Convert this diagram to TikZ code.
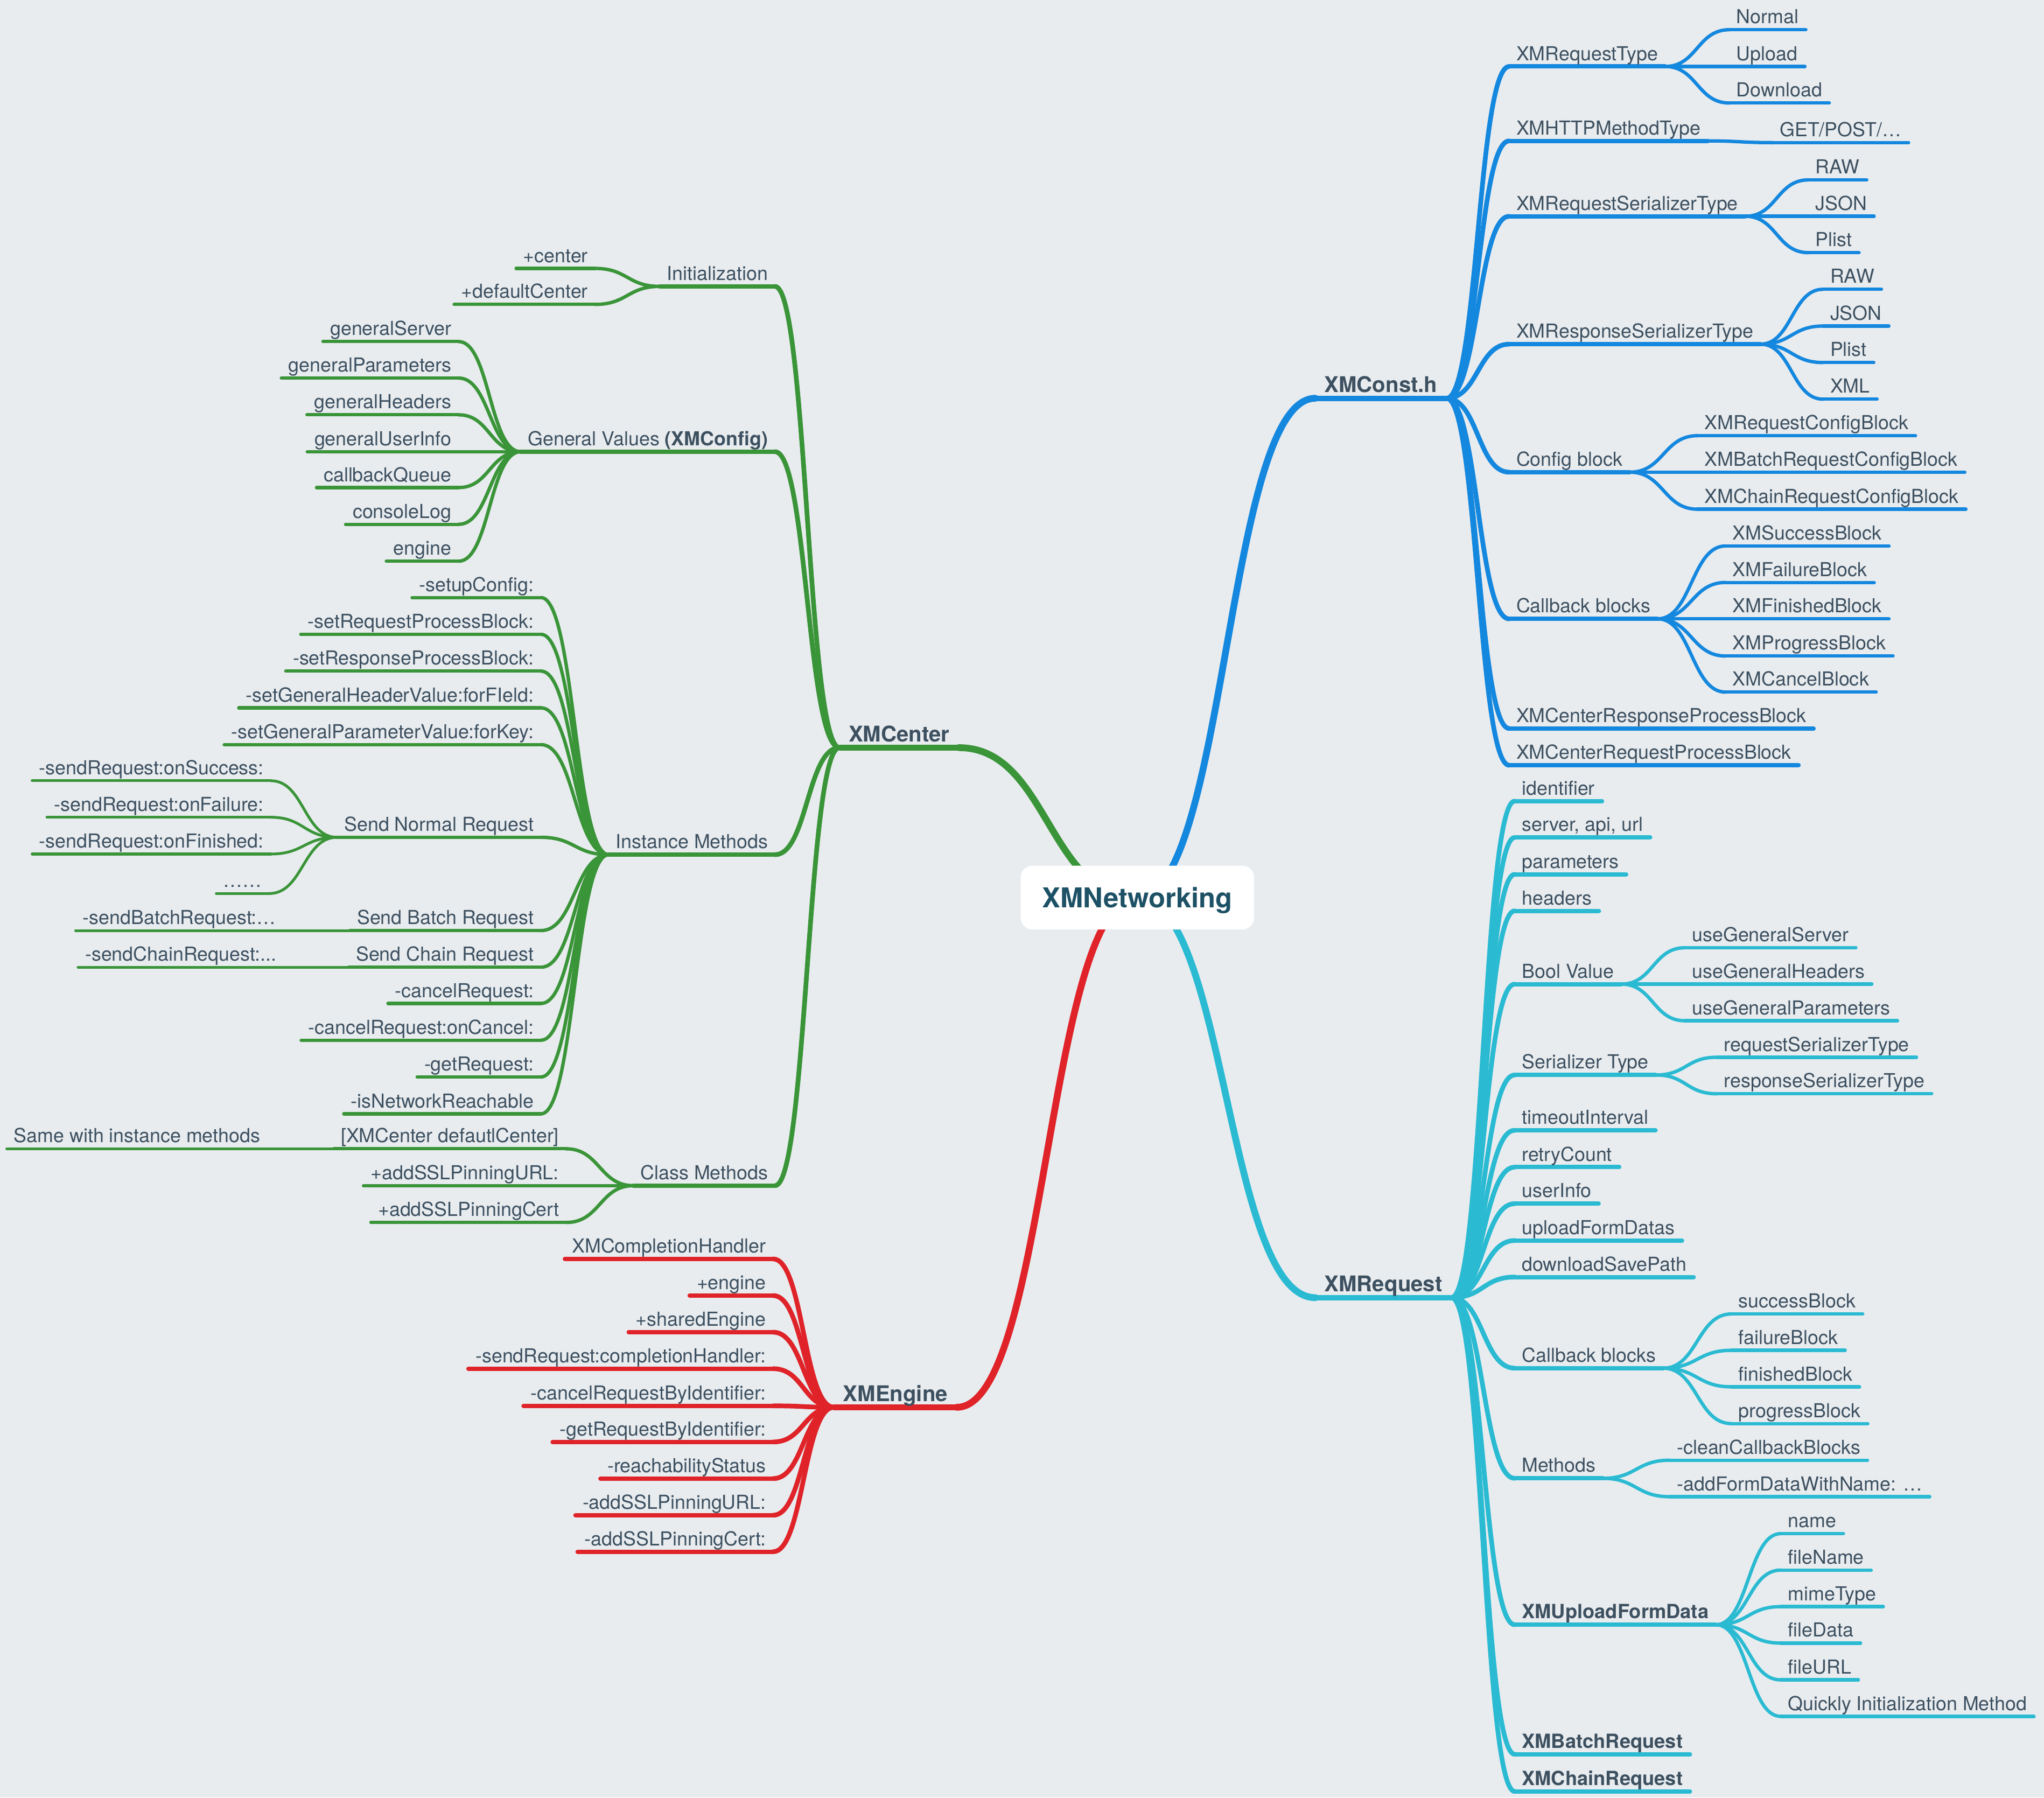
\documentclass[tikz,border=0pt]{standalone}
\usepackage{fontspec}
\setmainfont{TeX Gyre Heros}
\usetikzlibrary{calc}
\definecolor{bgc}{HTML}{E8ECEF}
\definecolor{txtc}{HTML}{3D5060}
\definecolor{ctrc}{HTML}{1D5166}
\definecolor{cblue}{HTML}{1487DE}
\definecolor{ccyan}{HTML}{2ABAD2}
\definecolor{cgreen}{HTML}{3A9438}
\definecolor{cred}{HTML}{DF2329}
\pgfdeclarelayer{bgl}
\pgfdeclarelayer{lines}
\pgfsetlayers{bgl,lines,main}
\tikzset{
 txt/.style={font=\fontsize{14.8}{17}\selectfont, text=txtc, inner xsep=5.5pt, inner ysep=4.7pt, text height=11pt, text depth=0pt, outer sep=0pt},
 bt/.style={txt, font=\fontsize{15}{17}\selectfont\bfseries},
 lone/.style={txt, font=\fontsize{16.6}{19}\selectfont\bfseries, inner xsep=7pt, text height=12.5pt},
 R/.style={anchor=south west},
 L/.style={anchor=south east},
 kone/.style={line width=5.2pt, line cap=round},
 uone/.style={line width=4.2pt, line cap=round},
 ktwo/.style={line width=3.6pt, line cap=round},
 utwo/.style={line width=3.3pt, line cap=round},
 kthree/.style={line width=2.6pt, line cap=round},
 kfour/.style={line width=2.1pt, line cap=round},
}
\newcommand\mmul[2]{\draw[#1] (#2.south west) -- (#2.south east);}
\newcommand\mmcn[3]{\draw[#1] let \p1=(#2), \p2=(#3) in (\p1) .. controls ({(\x1+\x2)/2},\y1) and ({(\x1+\x2)/2},\y2) .. (\p2);}
% lists
\def\LBtwo{b1/51/XMRequestType, b2/108.1/XMHTTPMethodType, b3/165.9/XMRequestSerializerType, b4/264/XMResponseSerializerType, b5/362.2/Config block, b6/474.7/Callback blocks, b7/558.8/XMCenterResponseProcessBlock, b8/587/XMCenterRequestProcessBlock}
\def\LBthree{b1/b1a/1326.6/22.8/Normal, b1/b1b/1326.6/51/Upload, b1/b1c/1326.6/79/Download, b2/b2a/1359.8/109.4/{GET/POST/…}, b3/b3a/1387.2/138/RAW, b3/b3b/1387.2/165.9/JSON, b3/b3c/1387.2/193.8/Plist, b4/b4a/1398.5/221.9/RAW, b4/b4b/1398.5/250.1/JSON, b4/b4c/1398.5/278.1/Plist, b4/b4d/1398.5/306.2/XML, b5/b5a/1302.2/334.2/XMRequestConfigBlock, b5/b5b/1302.2/362.2/XMBatchRequestConfigBlock, b5/b5c/1302.2/390.6/XMChainRequestConfigBlock, b6/b6a/1323.7/418.8/XMSuccessBlock, b6/b6b/1323.7/446.8/XMFailureBlock, b6/b6c/1323.7/474.7/XMFinishedBlock, b6/b6d/1323.7/503.2/XMProgressBlock, b6/b6e/1323.7/530.9/XMCancelBlock}
\def\LCtwo{c1/614.5/txt/identifier, c2/642.4/txt/{server, api, url}, c3/670.7/txt/parameters, c4/698.7/txt/headers, c5/754.9/txt/Bool Value, c6/824.6/txt/Serializer Type, c7/867/txt/timeoutInterval, c8/895.3/txt/retryCount, c9/923.3/txt/userInfo, c10/951.6/txt/uploadFormDatas, c11/979.6/txt/downloadSavePath, c12/1049.5/txt/Callback blocks, c13/1134/txt/Methods, c14/1246.3/bt/XMUploadFormData, c15/1345.7/bt/XMBatchRequest, c16/1374.2/bt/XMChainRequest}
\def\LCthree{c5/c5a/1292.5/727/useGeneralServer, c5/c5b/1292.5/754.9/useGeneralHeaders, c5/c5c/1292.5/783/useGeneralParameters, c6/c6a/1317/811/requestSerializerType, c6/c6b/1317/839/responseSerializerType, c12/c12a/1328.2/1007.9/successBlock, c12/c12b/1328.2/1035.8/failureBlock, c12/c12c/1328.2/1063.8/finishedBlock, c12/c12d/1328.2/1092/progressBlock, c13/c13a/1280.9/1120.1/-cleanCallbackBlocks, c13/c13b/1280.9/1148.1/{-addFormDataWithName: …}, c14/c14a/1366.1/1176.4/name, c14/c14b/1366.1/1204.4/fileName, c14/c14c/1366.1/1232.4/mimeType, c14/c14d/1366.1/1260.4/fileData, c14/c14e/1366.1/1288.6/fileURL, c14/c14f/1366.1/1316.6/Quickly Initialization Method}
\def\LGtwo{g1/219.7/Initialization, g2/346.5/{General Values \textbf{(XMConfig)}}, g3/655.6/Instance Methods, g4/909.5/Class Methods}
\def\LGthree{g1/g1a/456.5/205.9/+center, g1/g1b/456.5/233.5/+defaultCenter, g2/g2a/351.8/262/generalServer, g2/g2b/351.8/290/generalParameters, g2/g2c/351.8/318.2/generalHeaders, g2/g2d/351.8/346.5/generalUserInfo, g2/g2e/351.8/374/callbackQueue, g2/g2f/351.8/402.2/consoleLog, g2/g2g/351.8/430.5/engine, g3/g3a/415/458.4/-setupConfig:, g3/g3b/415/486.6/-setRequestProcessBlock:, g3/g3c/415/514.8/-setResponseProcessBlock:, g3/g3d/415/543/-setGeneralHeaderValue:forFIeld:, g3/g3e/415/571.2/-setGeneralParameterValue:forKey:, g3/g3f/415/642.3/Send Normal Request, g3/g3g/415/713.8/Send Batch Request, g3/g3h/415/741.9/Send Chain Request, g3/g3i/415/769.7/-cancelRequest:, g3/g3j/415/797.9/-cancelRequest:onCancel:, g3/g3k/415/826.1/-getRequest:, g3/g3l/415/854.4/-isNetworkReachable, g4/g4a/434.2/881.2/{[XMCenter defautlCenter]}, g4/g4b/434.2/909.5/+addSSLPinningURL:, g4/g4c/434.6/937.7/+addSSLPinningCert}
\def\LGfour{g3f/g3fa/207.8/598.9/-sendRequest:onSuccess:, g3f/g3fb/207.8/626.9/-sendRequest:onFailure:, g3f/g3fc/207.8/655.1/-sendRequest:onFinished:, g3f/g3fd/206.5/685.4/{……}, g3g/g3ga/217.3/713.8/{-sendBatchRequest:…}, g3h/g3ha/217.5/741.9/{-sendChainRequest:{.}{.}{.}}, g4a/g4aa/205/881.2/Same with instance methods}
\def\LRtwo{e1/965.7/XMCompletionHandler, e2/993.8/+engine, e3/1021.9/+sharedEngine, e4/1049.9/-sendRequest:completionHandler:, e5/1078.4/-cancelRequestByIdentifier:, e6/1106.1/-getRequestByIdentifier:, e7/1134.2/-reachabilityStatus, e8/1162.3/-addSSLPinningURL:, e9/1190.3/-addSSLPinningCert:}
\begin{document}
\begin{tikzpicture}[x=1pt,y=-1pt]
\useasboundingbox (0,0) rectangle (1568,1379);
\begin{pgfonlayer}{bgl}
\fill[bgc] (0,0) rectangle (1568,1379);
\end{pgfonlayer}
% center
\node[fill=white, rounded corners=9pt, minimum width=179pt, minimum height=49pt, inner sep=0pt, font=\fontsize{21}{24}\selectfont\bfseries, text=ctrc, text height=15.1pt, text depth=0pt] (ctr) at (872.5,688.5) {XMNetworking};
% level 1
\node[lone,R] (cst) at (1009,305.5) {XMConst.h};
\node[lone,R] (req) at (1009,995.4) {XMRequest};
\node[lone,L] (xc) at (735.4,573.5) {XMCenter};
\node[lone,L] (eng) at (734,1079.5) {XMEngine};
% level 2+
\foreach \nn/\yy/\ttx in \LBtwo {\node[txt,R] (\nn) at (1157.7,\yy) {\ttx};}
\foreach \ppar/\nn/\xx/\yy/\ttx in \LBthree {\node[txt,R] (\nn) at (\xx,\yy) {\ttx};}
\foreach \nn/\yy/\sty/\ttx in \LCtwo {\node[\sty,R] (\nn) at (1162,\yy) {\ttx};}
\foreach \ppar/\nn/\xx/\yy/\ttx in \LCthree {\node[txt,R] (\nn) at (\xx,\yy) {\ttx};}
\foreach \nn/\yy/\ttx in \LGtwo {\node[txt,L] (\nn) at (594.5,\yy) {\ttx};}
\foreach \ppar/\nn/\xx/\yy/\ttx in \LGthree {\node[txt,L] (\nn) at (\xx,\yy) {\ttx};}
\foreach \ppar/\nn/\xx/\yy/\ttx in \LGfour {\node[txt,L] (\nn) at (\xx,\yy) {\ttx};}
\foreach \nn/\yy/\ttx in \LRtwo {\node[txt,L] (\nn) at (593.1,\yy) {\ttx};}
% lines
\begin{pgfonlayer}{lines}
\mmcn{kone,cblue}{ctr.center}{cst.south west}\mmul{uone,cblue}{cst}
\mmcn{kone,ccyan}{ctr.center}{req.south west}\mmul{uone,ccyan}{req}
\mmcn{kone,cgreen}{ctr.center}{xc.south east}\mmul{uone,cgreen}{xc}
\mmcn{kone,cred}{ctr.center}{eng.south east}\mmul{uone,cred}{eng}
\foreach \nn/\yy/\ttx in \LBtwo {\mmcn{ktwo,cblue}{cst.south east}{\nn.south west}\mmul{utwo,cblue}{\nn}}
\foreach \ppar/\nn/\xx/\yy/\ttx in \LBthree {\mmcn{kthree,cblue}{\ppar.south east}{\nn.south west}\mmul{kthree,cblue}{\nn}}
\foreach \nn/\yy/\sty/\ttx in \LCtwo {\mmcn{ktwo,ccyan}{req.south east}{\nn.south west}\mmul{utwo,ccyan}{\nn}}
\foreach \ppar/\nn/\xx/\yy/\ttx in \LCthree {\mmcn{kthree,ccyan}{\ppar.south east}{\nn.south west}\mmul{kthree,ccyan}{\nn}}
\foreach \nn/\yy/\ttx in \LGtwo {\mmcn{ktwo,cgreen}{xc.south west}{\nn.south east}\mmul{utwo,cgreen}{\nn}}
\foreach \ppar/\nn/\xx/\yy/\ttx in \LGthree {\mmcn{kthree,cgreen}{\ppar.south west}{\nn.south east}\mmul{kthree,cgreen}{\nn}}
\foreach \ppar/\nn/\xx/\yy/\ttx in \LGfour {\mmcn{kfour,cgreen}{\ppar.south west}{\nn.south east}\mmul{kfour,cgreen}{\nn}}
\foreach \nn/\yy/\ttx in \LRtwo {\mmcn{ktwo,cred}{eng.south west}{\nn.south east}\mmul{utwo,cred}{\nn}}
\end{pgfonlayer}
\end{tikzpicture}
\end{document}
